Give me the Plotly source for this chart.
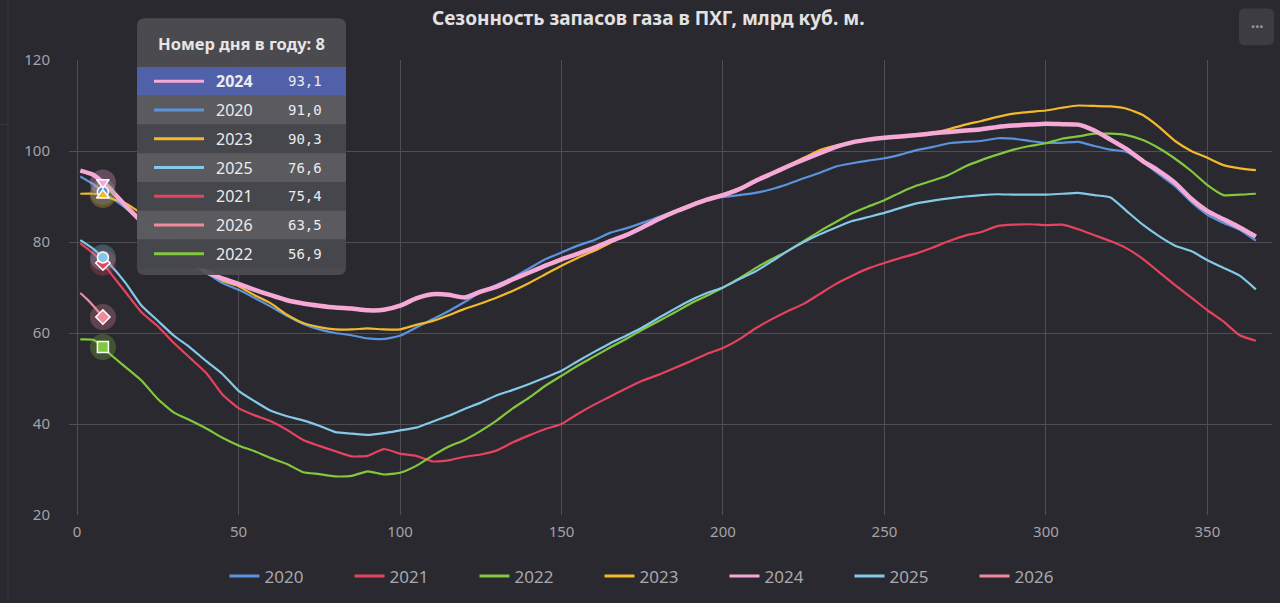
import plotly.graph_objects as go

# day of year for the sampled points
days = [1, 5, 8] + list(range(10, 366, 5))

y2020 = [94.4, 92.7, 91.0, 90.0, 87.5, 84.8, 81.5, 78.5, 75.8, 73.3, 71.0, 69.5, 67.7, 65.8, 63.8, 62.0,
         60.8, 60.0, 59.5, 58.8, 58.7, 59.4, 61.2, 63.0, 64.8, 66.8, 69.0, 70.6, 72.2, 74.2, 76.2, 77.7,
         79.2, 80.4, 82.0, 83.0, 84.2, 85.5, 86.8, 88.1, 89.2, 89.9, 90.3, 90.8, 91.6, 92.7, 94.0, 95.2,
         96.6, 97.3, 97.9, 98.4, 99.2, 100.2, 100.9, 101.7, 102.0, 102.2, 102.8, 102.7, 102.2, 101.8, 101.8,
         102.0, 101.1, 100.3, 99.8, 97.6, 94.9, 92.3, 88.8, 86.0, 84.2, 82.7, 80.3]
y2021 = [79.7, 77.5, 75.4, 73.5, 69.0, 64.5, 61.5, 57.8, 54.5, 51.2, 46.5, 43.5, 41.9, 40.6, 38.7, 36.5,
         35.2, 34.0, 32.9, 33.0, 34.5, 33.5, 33.0, 31.8, 32.0, 32.8, 33.3, 34.2, 36.0, 37.5, 38.9, 40.0,
         42.2, 44.2, 46.0, 47.8, 49.5, 50.8, 52.3, 53.8, 55.4, 56.7, 58.6, 61.0, 63.0, 64.8, 66.4, 68.6,
         70.8, 72.6, 74.2, 75.4, 76.5, 77.5, 78.8, 80.2, 81.4, 82.2, 83.5, 83.8, 83.9, 83.7, 83.8, 82.8,
         81.5, 80.2, 78.6, 76.3, 73.4, 70.5, 67.8, 65.0, 62.5, 59.5, 58.3]
y2022 = [58.6, 58.5, 56.9, 55.5, 52.5, 49.5, 45.5, 42.5, 40.8, 39.0, 37.0, 35.3, 34.0, 32.5, 31.2, 29.4,
         29.0, 28.5, 28.6, 29.6, 28.9, 29.3, 30.8, 33.0, 35.0, 36.5, 38.5, 40.8, 43.5, 45.8, 48.4, 50.6,
         52.8, 54.8, 56.8, 58.7, 60.7, 62.6, 64.5, 66.5, 68.2, 70.0, 72.0, 74.2, 76.2, 78.0, 80.2, 82.4,
         84.4, 86.3, 87.8, 89.2, 90.9, 92.4, 93.5, 94.8, 96.6, 98.0, 99.2, 100.3, 101.1, 101.7, 102.7,
         103.2, 103.8, 103.8, 103.5, 102.4, 100.6, 98.3, 95.6, 92.5, 90.3, 90.4, 90.6]
y2023 = [90.6, 90.6, 90.3, 89.7, 88.5, 86.2, 83.0, 80.0, 77.0, 73.8, 71.5, 70.3, 68.3, 66.5, 64.0, 62.2,
         61.3, 60.8, 60.8, 61.0, 60.8, 60.8, 61.8, 62.6, 63.9, 65.3, 66.5, 67.8, 69.3, 71.0, 72.9, 74.8,
         76.5, 78.0, 79.8, 81.5, 83.3, 85.2, 86.8, 88.2, 89.5, 90.5, 91.8, 93.2, 95.0, 96.8, 98.5, 100.2,
         101.2, 101.9, 102.5, 102.9, 103.2, 103.5, 104.0, 104.8, 105.8, 106.6, 107.5, 108.2, 108.6, 108.9,
         109.5, 110.0, 109.9, 109.8, 109.3, 107.9, 105.3, 102.2, 100.0, 98.5, 96.9, 96.2, 95.8]
y2024 = [95.7, 94.8, 93.1, 91.8, 88.0, 84.5, 81.5, 78.8, 76.0, 73.4, 72.0, 70.8, 69.5, 68.3, 67.2, 66.5,
         66.0, 65.6, 65.4, 65.0, 65.1, 66.0, 67.6, 68.5, 68.4, 67.8, 69.1, 70.2, 71.8, 73.3, 74.8, 76.2,
         77.4, 78.7, 80.2, 81.5, 83.2, 85.0, 86.6, 88.0, 89.3, 90.3, 91.6, 93.4, 95.0, 96.6, 98.1, 99.5,
         100.9, 101.9, 102.5, 102.9, 103.2, 103.5, 103.9, 104.2, 104.5, 104.8, 105.3, 105.6, 105.8, 106.0,
         105.9, 105.8, 104.5, 102.5, 100.4, 97.8, 95.6, 93.0, 89.5, 86.8, 85.0, 83.2, 81.2]
y2025 = [80.4, 78.5, 76.6, 75.2, 71.0, 66.0, 62.7, 59.4, 56.8, 53.8, 51.0, 47.3, 45.0, 42.9, 41.7, 40.8,
         39.6, 38.2, 37.9, 37.6, 38.0, 38.6, 39.2, 40.5, 41.8, 43.3, 44.7, 46.3, 47.5, 48.8, 50.2, 51.7,
         53.8, 55.8, 57.7, 59.4, 61.2, 63.3, 65.3, 67.2, 68.8, 70.0, 71.8, 73.5, 75.7, 78.0, 80.0, 81.7,
         83.2, 84.6, 85.5, 86.4, 87.5, 88.5, 89.1, 89.6, 90.0, 90.3, 90.5, 90.4, 90.4, 90.4, 90.6, 90.8,
         90.3, 89.8, 86.8, 83.8, 81.3, 79.2, 78.0, 76.0, 74.3, 72.6, 69.6]
days_2026 = [1, 3, 5, 8]
y2026 = [68.8, 67.5, 66.0, 63.5]

years = ["2020", "2021", "2022", "2023", "2024", "2025", "2026"]
values = [y2020, y2021, y2022, y2023, y2024, y2025, y2026]
colors = ["#5b93dc", "#e5435f", "#82c83f", "#f2b92b", "#f6a9d6", "#84c9ea", "#ee8b9e"]
symbols = ["circle", "diamond", "square", "triangle-up", "triangle-down", "circle", "diamond"]

hover_day = 8
active_year = "2024"

bg = "#2a292f"
fig = go.Figure()

# lines; the highlighted year is drawn last so it sits on top
draw_order = [0, 1, 2, 3, 5, 6, 4]
for i in draw_order:
    xs = days_2026 if years[i] == "2026" else days
    fig.add_trace(go.Scatter(
        x=xs, y=values[i], mode="lines", showlegend=False,
        line=dict(color=colors[i], width=4.5 if years[i] == active_year else 2.2,
                  shape="spline", smoothing=0.5),
        hoverinfo="skip"))

# legend entries (plain width, as in the original legend)
for i, yr in enumerate(years):
    fig.add_trace(go.Scatter(x=[None], y=[None], mode="lines", name=yr,
                             line=dict(color=colors[i], width=3), hoverinfo="skip"))

# hover markers at the tooltip day, with halos
hover_vals = {}
for i in draw_order:
    xs = days_2026 if years[i] == "2026" else days
    v = values[i][xs.index(hover_day)]
    hover_vals[years[i]] = v
    fig.add_trace(go.Scatter(x=[hover_day], y=[v], mode="markers", showlegend=False, hoverinfo="skip",
                             marker=dict(size=26, color=colors[i], opacity=0.28)))
for i in draw_order:
    fig.add_trace(go.Scatter(x=[hover_day], y=[hover_vals[years[i]]], mode="markers", showlegend=False,
                             hoverinfo="skip",
                             marker=dict(size=11, color=colors[i], symbol=symbols[i],
                                         line=dict(color="white", width=1.5))))

# plot area in pixels
L, R, T, B = 69, 1272, 60, 519
W, H = R - L, B - T


def px(x):
    return (x - L) / W


def py(y):
    return (B - y) / H


def rounded(x0, y0, x1, y1, r):
    # rounded rectangle in pixel coords -> paper path
    pts = [
        f"M {px(x0 + r)},{py(y0)}", f"L {px(x1 - r)},{py(y0)}", f"Q {px(x1)},{py(y0)} {px(x1)},{py(y0 + r)}",
        f"L {px(x1)},{py(y1 - r)}", f"Q {px(x1)},{py(y1)} {px(x1 - r)},{py(y1)}",
        f"L {px(x0 + r)},{py(y1)}", f"Q {px(x0)},{py(y1)} {px(x0)},{py(y1 - r)}",
        f"L {px(x0)},{py(y0 + r)}", f"Q {px(x0)},{py(y0)} {px(x0 + r)},{py(y0)}", "Z"]
    return " ".join(pts)


shapes = []
annotations = []

# tooltip box
tx0, tx1, ty0, ty1 = 137, 346, 18, 277
shapes.append(dict(type="path", xref="paper", yref="paper", path=rounded(tx0, ty0, tx1, ty1, 8),
                   fillcolor="rgba(76,76,82,0.93)", line=dict(width=0), layer="above"))
annotations.append(dict(xref="paper", yref="paper", x=px((tx0 + tx1) / 2), y=py(43), showarrow=False,
                        text=f"<b>Номер дня в году: {hover_day}</b>", xanchor="center", yanchor="middle",
                        font=dict(size=16.5, color="#e6e6e6", family="Noto Sans")))

order = sorted(years, key=lambda k: -hover_vals[k])
row_h = 29
for r, yr in enumerate(order):
    yc = 81.5 + row_h * r
    if yr == active_year:
        fill = "rgba(82,98,172,0.97)"
    elif r % 2 == 1:
        fill = "rgba(92,92,97,0.9)"
    else:
        fill = "rgba(70,70,76,0.9)"
    shapes.append(dict(type="rect", xref="paper", yref="paper", x0=px(tx0), x1=px(tx1),
                       y0=py(yc - row_h / 2), y1=py(yc + row_h / 2), fillcolor=fill,
                       line=dict(width=0), layer="above"))
    c = colors[years.index(yr)]
    shapes.append(dict(type="line", xref="paper", yref="paper", x0=px(154), x1=px(204), y0=py(yc), y1=py(yc),
                       line=dict(color=c, width=3), layer="above"))
    name = f"<b>{yr}</b>" if yr == active_year else yr
    annotations.append(dict(xref="paper", yref="paper", x=px(214), y=py(yc), showarrow=False, text=name,
                            xanchor="left", yanchor="middle",
                            font=dict(size=16, color="#ececec", family="Noto Sans")))
    annotations.append(dict(xref="paper", yref="paper", x=px(324), y=py(yc), showarrow=False,
                            text=f"{hover_vals[yr]:.1f}".replace(".", ","), xanchor="right", yanchor="middle",
                            font=dict(size=14, color="#ececec", family="DejaVu Sans Mono")))

# menu button top right
shapes.append(dict(type="path", xref="paper", yref="paper", path=rounded(1239, 8, 1274, 45, 6),
                   fillcolor="#3d3c43", line=dict(width=0), layer="above"))
annotations.append(dict(xref="paper", yref="paper", x=px(1256.5), y=py(26), showarrow=False, text="•••",
                        xanchor="center", yanchor="middle", font=dict(size=11, color="#9a9a9f")))

# page edge lines at the far left
shapes.append(dict(type="line", xref="paper", yref="paper", x0=px(8), x1=px(8), y0=py(0), y1=py(603),
                   line=dict(color="#3a3940", width=1), layer="below"))
shapes.append(dict(type="line", xref="paper", yref="paper", x0=px(0), x1=px(8), y0=py(125), y1=py(125),
                   line=dict(color="#3a3940", width=1), layer="below"))

annotations.append(dict(xref="paper", yref="paper", x=px(648), y=py(18), showarrow=False,
                        text="<b>Сезонность запасов газа в ПХГ, млрд куб. м.</b>", xanchor="center",
                        yanchor="middle", font=dict(size=19, color="#e2e2e2", family="Noto Sans")))

fig.update_layout(
    width=1280, height=603,
    margin=dict(l=L, r=1280 - R, t=T, b=603 - B),
    paper_bgcolor=bg, plot_bgcolor=bg,
    font=dict(family="Noto Sans", color="#a3a3a8"),
    showlegend=True,
    legend=dict(orientation="h", x=px(662), xanchor="center", y=py(581), yanchor="middle",
                font=dict(size=17, color="#a8a8ad"), bgcolor="rgba(0,0,0,0)", entrywidth=80,
                itemclick=False, itemdoubleclick=False),
    hovermode=False,
    shapes=shapes,
    annotations=annotations,
    xaxis=dict(range=[-2.5, 370], tickvals=[0, 50, 100, 150, 200, 250, 300, 350], showgrid=True,
               gridcolor="#4f4e55", gridwidth=1, zeroline=False, showline=False, ticks="",
               tickfont=dict(size=15, color="#a3a3a8"), ticklabelstandoff=6, fixedrange=True),
    yaxis=dict(range=[20, 120], tickvals=[20, 40, 60, 80, 100, 120], showgrid=True, gridcolor="#4f4e55",
               gridwidth=1, zeroline=False, showline=False, ticks="",
               tickfont=dict(size=15, color="#a3a3a8"), ticklabelstandoff=18, fixedrange=True),
)

fig.write_html("out.html", config={"displayModeBar": False},
               post_script="document.body.style.margin='0';")
